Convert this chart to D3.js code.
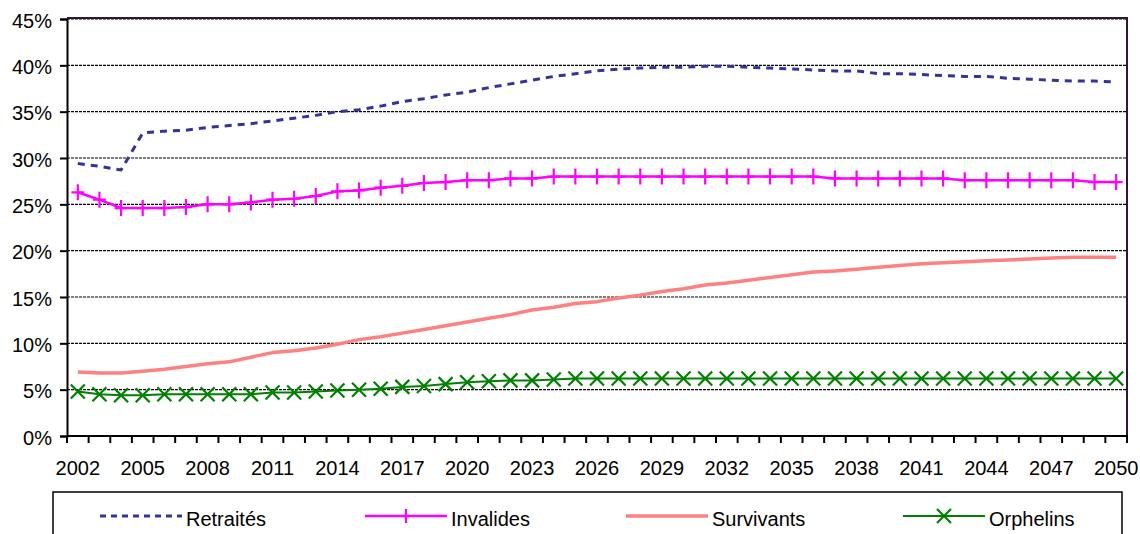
<!DOCTYPE html>
<html>
<head>
<meta charset="utf-8">
<script src="https://cdn.jsdelivr.net/npm/d3@7"></script>
<style>
  html, body { margin: 0; padding: 0; background: #fff; }
  svg { display: block; }
  text { font-family: "Liberation Sans", Arial, sans-serif; fill: #000; }
</style>
</head>
<body>
<svg id="chart" width="1140" height="534"></svg>
<script>
// ---- Data ----
const years = d3.range(2002, 2051);
const yTicks = [0, 5, 10, 15, 20, 25, 30, 35, 40, 45];
const xLabelYears = d3.range(2002, 2051, 3);

const retraites = [29.4, 29.1, 28.7, 32.7, 32.9, 33.0, 33.3, 33.5, 33.7, 34.0,
                   34.3, 34.6, 35.0, 35.2, 35.6, 36.1, 36.4, 36.8, 37.1, 37.6,
                   38.0, 38.4, 38.8, 39.1, 39.4, 39.6, 39.7, 39.8, 39.8, 39.9,
                   39.9, 39.8, 39.7, 39.6, 39.5, 39.4, 39.4, 39.1, 39.1, 39.0,
                   38.9, 38.8, 38.8, 38.6, 38.5, 38.4, 38.3, 38.3, 38.2];
const invalides = [26.3, 25.5, 24.6, 24.6, 24.6, 24.7, 25.0, 25.0, 25.2, 25.5,
                   25.6, 25.9, 26.4, 26.5, 26.8, 27.0, 27.3, 27.4, 27.6, 27.6,
                   27.8, 27.8, 28.0, 28.0, 28.0, 28.0, 28.0, 28.0, 28.0, 28.0,
                   28.0, 28.0, 28.0, 28.0, 28.0, 27.8, 27.8, 27.8, 27.8, 27.8,
                   27.8, 27.6, 27.6, 27.6, 27.6, 27.6, 27.6, 27.4, 27.4];
const survivants = [6.9, 6.8, 6.8, 7.0, 7.2, 7.5, 7.8, 8.0, 8.5, 9.0,
                    9.2, 9.5, 9.9, 10.4, 10.7, 11.1, 11.5, 11.9, 12.3, 12.7,
                    13.1, 13.6, 13.9, 14.3, 14.5, 14.9, 15.2, 15.6, 15.9, 16.3,
                    16.5, 16.8, 17.1, 17.4, 17.7, 17.8, 18.0, 18.2, 18.4, 18.6,
                    18.7, 18.8, 18.9, 19.0, 19.1, 19.2, 19.3, 19.3, 19.3];
const orphelins = [4.8, 4.5, 4.4, 4.4, 4.5, 4.5, 4.5, 4.5, 4.5, 4.7,
                   4.7, 4.8, 4.9, 5.0, 5.1, 5.3, 5.4, 5.6, 5.8, 5.9,
                   6.0, 6.0, 6.1, 6.2, 6.2, 6.2, 6.2, 6.2, 6.2, 6.2,
                   6.2, 6.2, 6.2, 6.2, 6.2, 6.2, 6.2, 6.2, 6.2, 6.2,
                   6.2, 6.2, 6.2, 6.2, 6.2, 6.2, 6.2, 6.2, 6.2];

const seriesNames = ["Retraités", "Invalides", "Survivants", "Orphelins"];
const seriesValues = [retraites, invalides, survivants, orphelins];

// ---- Styles ----
const styles = [
  { color: "#333399", width: 3, dash: "7,6", marker: null },
  { color: "#FF00FF", width: 2.5, dash: null, marker: "plus" },
  { color: "#FF8080", width: 3.5, dash: null, marker: null },
  { color: "#008000", width: 2, dash: null, marker: "cross" }
];

// ---- Layout ----
const pLeft = 67, pRight = 1127, pTop = 19, pBottom = 436;
const svg = d3.select("#chart");

const x = d3.scaleBand().domain(years).range([pLeft, pRight]).padding(0);
const cx = d => x(d) + x.bandwidth() / 2;
const y = d3.scaleLinear().domain([0, 45]).range([pBottom, pTop]);

// Gridlines
svg.append("g").selectAll("line").data(yTicks.filter(t => t > 0)).join("line")
  .attr("x1", pLeft).attr("x2", pRight)
  .attr("y1", d => y(d)).attr("y2", d => y(d))
  .attr("stroke", "#000").attr("stroke-width", 1.2).attr("stroke-dasharray", "3,1");

// Frame top & right
svg.append("line").attr("x1", pLeft).attr("x2", pRight).attr("y1", pTop - 1).attr("y2", pTop - 1)
  .attr("stroke", "#2a1a2a").attr("stroke-width", 2);
svg.append("line").attr("x1", pRight).attr("x2", pRight).attr("y1", pTop - 2).attr("y2", pBottom)
  .attr("stroke", "#2a1a2a").attr("stroke-width", 2);

// Y axis
const yAxis = d3.axisLeft(y).tickValues(yTicks).tickFormat(d => d + "%").tickSize(7).tickPadding(8);
const gy = svg.append("g").attr("transform", `translate(${pLeft},0)`).call(yAxis);
gy.select(".domain").attr("stroke", "#000").attr("stroke-width", 2);
gy.selectAll(".tick line").attr("stroke", "#000").attr("stroke-width", 2);
gy.selectAll(".tick text").attr("font-size", 20).attr("font-family", "Liberation Sans, Arial, sans-serif")
  .attr("dy", "0.4em");

// X axis (ticks at category boundaries)
const gx = svg.append("g");
gx.append("line").attr("x1", pLeft).attr("x2", pRight + 1).attr("y1", pBottom).attr("y2", pBottom)
  .attr("stroke", "#000").attr("stroke-width", 2);
const boundaries = years.map(d => x(d)).concat([pRight]);
gx.selectAll("line.tk").data(boundaries).join("line").attr("class", "tk")
  .attr("x1", d => d).attr("x2", d => d).attr("y1", pBottom).attr("y2", pBottom + 7)
  .attr("stroke", "#000").attr("stroke-width", 2);
gx.selectAll("text").data(xLabelYears).join("text")
  .attr("x", d => cx(d)).attr("y", pBottom + 39)
  .attr("text-anchor", "middle").attr("font-size", 20)
  .text(d => d);

// Series
const line = d3.line().x((d, i) => cx(years[i])).y(d => y(d));
const plotG = svg.append("g");

function drawMarker(g, type, px, py, r, color) {
  if (type === "plus") {
    g.append("path").attr("d", `M${px - r * 0.8},${py}H${px + r * 0.8}M${px},${py - r}V${py + r}`)
      .attr("stroke", color).attr("stroke-width", 2.2).attr("fill", "none");
  } else if (type === "cross") {
    g.append("path").attr("d", `M${px - r},${py - r}L${px + r},${py + r}M${px - r},${py + r}L${px + r},${py - r}`)
      .attr("stroke", color).attr("stroke-width", 2.2).attr("fill", "none");
  }
}

seriesValues.forEach((vals, si) => {
  const st = styles[si];
  const p = plotG.append("path").datum(vals).attr("d", line)
    .attr("fill", "none").attr("stroke", st.color).attr("stroke-width", st.width)
    .attr("stroke-linejoin", "round");
  if (st.dash) p.attr("stroke-dasharray", st.dash);
  if (st.marker) {
    const mg = plotG.append("g");
    vals.forEach((v, i) => drawMarker(mg, st.marker, cx(years[i]), y(v), st.marker === "plus" ? 8 : 7, st.color));
  }
});

// Legend
const lg = svg.append("g");
lg.append("rect").attr("x", 53).attr("y", 492).attr("width", 1069).attr("height", 60)
  .attr("fill", "#fff").attr("stroke", "#000").attr("stroke-width", 1.5);
const legendX = [100, 365, 626, 903];
const legendY = 516;
seriesNames.forEach((name, si) => {
  const st = styles[si];
  const x0 = legendX[si], x1 = x0 + 82;
  const l = lg.append("line").attr("x1", x0).attr("x2", x1).attr("y1", legendY).attr("y2", legendY)
    .attr("stroke", st.color).attr("stroke-width", si === 0 ? 3 : st.width);
  if (si === 0) l.attr("stroke-dasharray", "6,5");
  if (st.marker) drawMarker(lg, st.marker, (x0 + x1) / 2, legendY, 7, st.color);
  lg.append("text").attr("x", x1 + 4).attr("y", legendY + 10).attr("font-size", 20).text(name);
});
</script>
</body>
</html>
